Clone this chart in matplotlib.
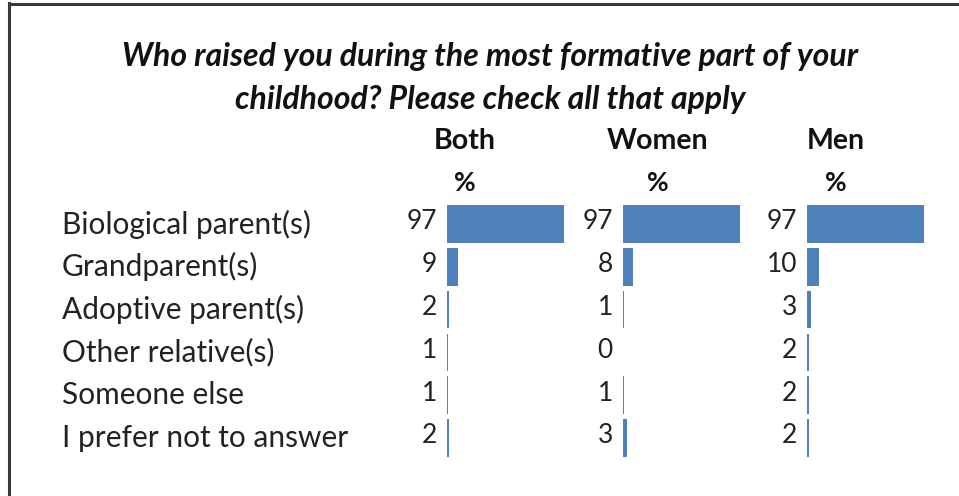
import matplotlib
matplotlib.use('agg')
import matplotlib.pyplot as plt
import matplotlib.transforms as mtransforms
from matplotlib.lines import Line2D

# survey answers, percent of respondents
categories = ['Biological parent(s)', 'Grandparent(s)', 'Adoptive parent(s)',
              'Other relative(s)', 'Someone else', 'I prefer not to answer']
groups = ['Both', 'Women', 'Men']
both = [97, 9, 2, 1, 1, 2]
women = [97, 8, 1, 0, 1, 3]
men = [97, 10, 3, 2, 2, 2]
title = 'Who raised you during the most formative part of your\nchildhood? Please check all that apply'

W, H = 959, 496
BAR = '#4F81BD'
TXT = '#222222'
plt.rcParams['font.family'] = ['Lato', 'DejaVu Sans']

fig = plt.figure(figsize=(W / 100, H / 100), dpi=100)
fig.patch.set_facecolor('white')

def fx(px):
    return px / W

def fy(py):
    return 1 - py / H

# frame: dark rule along the top and left side
fig.add_artist(Line2D([fx(9), fx(9)], [fy(3), fy(496)], color='#3a3a3a', lw=2.2,
                      transform=fig.transFigure))
fig.add_artist(Line2D([fx(9), fx(959)], [fy(4), fy(4)], color='#3a3a3a', lw=2.2,
                      transform=fig.transFigure))

fig.text(fx(490), fy(78), title, ha='center', va='center', fontsize=23,
         fontweight='bold', style='italic', color='#111111', linespacing=1.6)

series = [both, women, men]
bar_left = [447, 623, 807]
header_x = [465, 658, 836]
px_per_unit = 117 / 97.0
row_top, row_bottom = 224, 438
step = (row_bottom - row_top) / (len(categories) - 1)

axes = []
for vals, left, hx, name in zip(series, bar_left, header_x, groups):
    width_px = 100 * px_per_unit
    top_px = row_top - step / 2
    h_px = step * len(categories)
    ax = fig.add_axes([fx(left), fy(top_px + h_px), width_px / W, h_px / H])
    ypos = list(range(len(categories)))
    ax.barh(ypos, vals, height=0.88, color=BAR, edgecolor='none')
    ax.set_xlim(0, 100)
    ax.set_ylim(len(categories) - 0.5, -0.5)
    ax.axis('off')
    for y, v in zip(ypos, vals):
        ax.annotate(str(v), xy=(0, y), xytext=(-10, 2), textcoords='offset pixels',
                    ha='right', va='center', fontsize=19, color=TXT)
    fig.text(fx(hx), fy(141), name, ha='center', va='center', fontsize=20.5,
             fontweight='bold', color='#111111')
    fig.text(fx(hx), fy(183), '%', ha='center', va='center', fontsize=19,
             fontweight='bold', color='#111111')
    axes.append(ax)

# row labels sit in figure x but follow the bar rows in y
trans = mtransforms.blended_transform_factory(fig.transFigure, axes[0].transData)
for i, cat in enumerate(categories):
    fig.text(fx(62), i, cat, transform=trans, ha='left', va='center',
             fontsize=21.5, color=TXT)

fig.savefig('out.png', dpi=100, facecolor='white')
